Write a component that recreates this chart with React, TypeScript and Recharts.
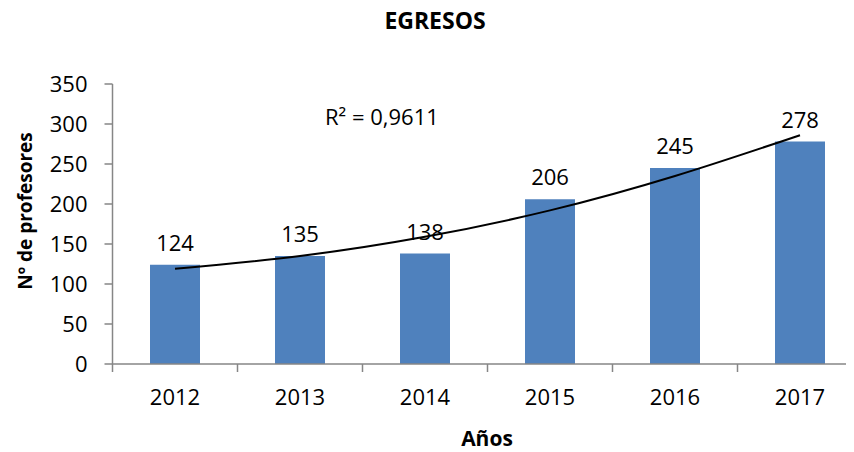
import { Bar, ComposedChart, LabelList, Line, XAxis, YAxis } from "recharts";

const years = ["2012", "2013", "2014", "2015", "2016", "2017"];
const egresos = [124, 135, 138, 206, 245, 278];
// polynomial trendline at each year
const tendencia = [119, 135, 159, 192, 235, 286];
const yTicks = [0, 50, 100, 150, 200, 250, 300, 350];

const data = years.map((year, i) => ({
  year,
  egresos: egresos[i],
  tendencia: tendencia[i],
}));

const FONT = "'Open Sans', sans-serif";
const AXIS = "#868686";
const X_TICK_SIZE = 8;
const X_TICK_MARGIN = 17;

// tick marks sit between categories, labels at the centre
const BoundaryTick = (props: any) => {
  const { x, y, payload } = props;
  const half = payload?.offset || 62.5;
  const top = y - X_TICK_MARGIN - X_TICK_SIZE;
  return (
    <g>
      <line
        x1={x - half}
        y1={top}
        x2={x - half}
        y2={top + X_TICK_SIZE}
        stroke={AXIS}
        strokeWidth={1.5}
      />
      <text
        x={x}
        y={y}
        dy="0.71em"
        textAnchor="middle"
        fill="#000"
        style={{ fontFamily: FONT, fontSize: 22 }}
      >
        {payload.value}
      </text>
    </g>
  );
};

export default function App() {
  return (
    <div style={{ position: "relative", width: 846, height: 444, background: "#fff" }}>
      <style>{`html { overflow: hidden; }`}</style>
      <ComposedChart
        width={880}
        height={444}
        data={data}
        margin={{ top: 76, right: 25.5, left: 44.5, bottom: 48 }}
        barCategoryGap="30%"
      >
        <XAxis
          dataKey="year"
          height={40}
          axisLine={{ stroke: AXIS, strokeWidth: 1.5 }}
          tickLine={{ stroke: "transparent" }}
          tickSize={X_TICK_SIZE}
          tickMargin={X_TICK_MARGIN}
          tick={<BoundaryTick />}
          interval={0}
        />
        <YAxis
          width={60}
          domain={[0, 350]}
          ticks={yTicks}
          interval={0}
          axisLine={{ stroke: AXIS, strokeWidth: 1.5 }}
          tickLine={{ stroke: AXIS, strokeWidth: 1.5 }}
          tickSize={8}
          tickMargin={17}
          tick={{ fill: "#000", fontFamily: FONT, fontSize: 22 }}
        />
        <Bar dataKey="egresos" fill="#4F81BD" isAnimationActive={false}>
          <LabelList
            dataKey="egresos"
            position="top"
            offset={14}
            fill="#000"
            style={{ fontFamily: FONT, fontSize: 22 }}
          />
        </Bar>
        <Line
          dataKey="tendencia"
          type="natural"
          stroke="#000"
          strokeWidth={2}
          dot={false}
          activeDot={false}
          isAnimationActive={false}
        />
      </ComposedChart>
      {/* titles and the R² note, in page coordinates */}
      <svg
        width={854}
        height={452}
        style={{ position: "absolute", left: -8, top: -8, pointerEvents: "none" }}
      >
        <text x={435} y={29} textAnchor="middle" fontFamily={FONT} fontWeight="bold" fontSize={23}>
          EGRESOS
        </text>
        <text x={325} y={125} fontFamily={FONT} fontSize={22}>
          R² = 0,9611
        </text>
        <text x={487} y={446} textAnchor="middle" fontFamily={FONT} fontWeight="bold" fontSize={21}>
          Años
        </text>
        <text
          x={32}
          y={211}
          textAnchor="middle"
          fontFamily={FONT}
          fontWeight="bold"
          fontSize={19}
          transform="rotate(-90 32 211)"
        >
          Nº de profesores
        </text>
      </svg>
    </div>
  );
}
